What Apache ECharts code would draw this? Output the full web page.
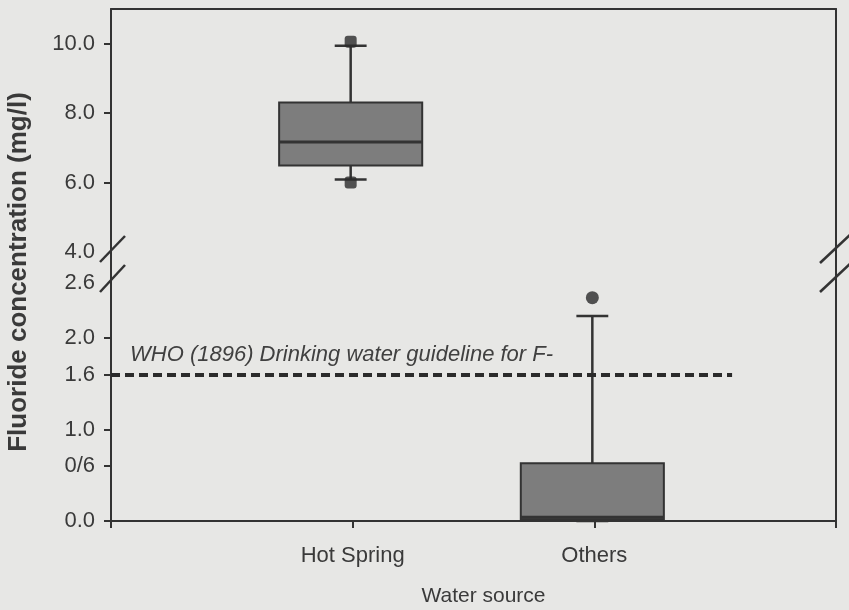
<!DOCTYPE html>
<html><head><meta charset="utf-8">
<script src="https://cdn.jsdelivr.net/npm/echarts@6/dist/echarts.min.js"></script>
<style>html,body{margin:0;padding:0;background:#e7e7e5;}#c{width:849px;height:610px;}</style>
</head><body><div id="c"></div>
<script>
// ---- data ----
const categories = ['Hot Spring', 'Others'];
const categoryPos = [1, 2];
// [min, Q1, median, Q3, max]  (mg/l)
const hotSpringBox = [6.09, 6.49, 7.17, 8.31, 9.94];
const othersBox = [0.0, 0.02, 0.04, 0.63, 2.24];
const hotSpringOutliers = [10.06, 6.0];
const othersOutliers = [2.44];
const upperTickValues = [4, 6, 8, 10];
const lowerTickValues = [0, 0.6, 1.0, 1.6, 2.0, 2.6];
const lowerTickLabels = ['0.0', '0/6', '1.0', '1.6', '2.0', '2.6'];
const guidelineValue = 1.6;
const guidelineEnd = 2.57;
const guidelineText = 'WHO (1896) Drinking water guideline for F-';
const xTitle = 'Water source';
const yTitle = 'Fluoride concentration (mg/l)';

// ---- chart ----
const FONT = '"Liberation Sans", Arial, Helvetica, sans-serif';
const TXT = '#3a3a3a';
const LINE = '#333333';
const chart = echarts.init(document.getElementById('c'), null, {renderer: 'canvas'});

function renderBox(params, api) {
  const x = api.value(0);
  const mn = api.value(1), q1 = api.value(2), md = api.value(3), q3 = api.value(4), mx = api.value(5);
  const band = api.size([1, 0])[0];
  const half = band * 0.296;
  const cap = band * 0.066;
  const pMin = api.coord([x, mn]), pQ1 = api.coord([x, q1]), pMd = api.coord([x, md]);
  const pQ3 = api.coord([x, q3]), pMx = api.coord([x, mx]);
  const cx = pMin[0] - 2;
  const ls = {stroke: LINE, lineWidth: 2.5};
  return {type: 'group', children: [
    {type: 'line', shape: {x1: cx, y1: pQ3[1], x2: cx, y2: pMx[1]}, style: ls},
    {type: 'line', shape: {x1: cx, y1: pMin[1], x2: cx, y2: pQ1[1]}, style: ls},
    {type: 'line', shape: {x1: cx - cap, y1: pMx[1], x2: cx + cap, y2: pMx[1]}, style: ls},
    {type: 'line', shape: {x1: cx - cap, y1: pMin[1], x2: cx + cap, y2: pMin[1]}, style: ls},
    {type: 'rect', shape: {x: cx - half, y: pQ3[1], width: 2 * half, height: pQ1[1] - pQ3[1]},
      style: {fill: '#7d7d7d', stroke: LINE, lineWidth: 2}},
    {type: 'line', shape: {x1: cx - half, y1: pMd[1], x2: cx + half, y2: pMd[1]}, style: {stroke: LINE, lineWidth: 3}}
  ]};
}

const lineAxis = {show: true, lineStyle: {color: LINE, width: 2}};
const noLabel = {show: false};
const noTick = {show: false};

const option = {
  backgroundColor: '#e7e7e5',
  animation: false,
  textStyle: {fontFamily: FONT},
  grid: [
    {left: 111, right: 13, top: 9, height: 243},
    {left: 111, right: 13, top: 283, height: 238}
  ],
  xAxis: [
    {type: 'value', gridIndex: 0, min: 0, max: 3, position: 'top', axisLine: lineAxis,
      axisTick: noTick, axisLabel: noLabel, splitLine: {show: false}},
    {type: 'value', gridIndex: 1, min: 0, max: 3, interval: 1, position: 'bottom', axisLine: lineAxis,
      axisTick: {show: true, length: 7, lineStyle: {color: LINE, width: 2}},
      axisLabel: {show: true, margin: 24, fontSize: 22, color: TXT, fontFamily: FONT,
        showMinLabel: true, showMaxLabel: true,
        formatter: v => { const i = categoryPos.indexOf(Math.round(v)); return i >= 0 && Math.abs(v - categoryPos[i]) < 1e-6 ? categories[i] : ''; }},
      splitLine: {show: false},
      name: xTitle, nameLocation: 'middle', nameGap: 65,
      nameTextStyle: {fontSize: 21, color: TXT, fontFamily: FONT, padding: [0, 0, 0, 20]}}
  ],
  yAxis: [
    {type: 'value', gridIndex: 0, min: 4, max: 11, position: 'left', axisLine: lineAxis,
      axisTick: {show: true, length: 7, customValues: upperTickValues.slice(1), lineStyle: {color: LINE, width: 2}},
      axisLabel: {show: true, customValues: upperTickValues, margin: 16, fontSize: 22, color: TXT, fontFamily: FONT,
        formatter: v => Number(v).toFixed(1)},
      splitLine: {show: false}},
    {type: 'value', gridIndex: 0, min: 4, max: 11, position: 'right', axisLine: lineAxis,
      axisTick: noTick, axisLabel: noLabel, splitLine: {show: false}},
    {type: 'value', gridIndex: 1, min: 0, max: 2.6, position: 'left', axisLine: lineAxis,
      axisTick: {show: true, length: 7, customValues: lowerTickValues.slice(0, -1), lineStyle: {color: LINE, width: 2}},
      axisLabel: {show: true, customValues: lowerTickValues, margin: 16, fontSize: 22, color: TXT, fontFamily: FONT,
        formatter: v => { const i = lowerTickValues.findIndex(t => Math.abs(t - v) < 1e-9); return i >= 0 ? lowerTickLabels[i] : ''; }},
      splitLine: {show: false}},
    {type: 'value', gridIndex: 1, min: 0, max: 2.6, position: 'right', axisLine: lineAxis,
      axisTick: noTick, axisLabel: noLabel, splitLine: {show: false}}
  ],
  series: [
    {type: 'custom', name: categories[0], xAxisIndex: 0, yAxisIndex: 0, renderItem: renderBox,
      encode: {x: 0, y: [1, 2, 3, 4, 5]},
      data: [[categoryPos[0]].concat(hotSpringBox)], z: 3},
    {type: 'custom', name: categories[1], xAxisIndex: 1, yAxisIndex: 2, renderItem: renderBox,
      encode: {x: 0, y: [1, 2, 3, 4, 5]},
      data: [[categoryPos[1]].concat(othersBox)], z: 3},
    {type: 'scatter', xAxisIndex: 0, yAxisIndex: 0, symbol: 'roundRect', symbolSize: 12,
      symbolOffset: [-2, 0],
      itemStyle: {color: '#2a2a2a'}, data: hotSpringOutliers.map(v => [categoryPos[0], v]), z: 4},
    {type: 'scatter', xAxisIndex: 1, yAxisIndex: 2, symbol: 'circle', symbolSize: 13,
      symbolOffset: [-2, 0],
      itemStyle: {color: '#2a2a2a'}, data: othersOutliers.map(v => [categoryPos[1], v]), z: 4,
      markLine: {
        silent: true, symbol: 'none', animation: false,
        lineStyle: {color: '#2b2b2b', width: 4, type: [9, 5]},
        label: {show: true, position: 'insideStartTop', formatter: guidelineText, distance: [19, 9],
          fontStyle: 'italic', fontSize: 22, color: '#404040', fontFamily: FONT},
        data: [[{coord: [0, guidelineValue]}, {coord: [guidelineEnd, guidelineValue]}]]
      }}
  ],
  graphic: [
    {type: 'line', shape: {x1: 111, y1: 251, x2: 111, y2: 284}, style: {stroke: LINE, lineWidth: 2}},
    {type: 'line', shape: {x1: 836, y1: 251, x2: 836, y2: 284}, style: {stroke: LINE, lineWidth: 2}},
    {type: 'line', shape: {x1: 100, y1: 262, x2: 125, y2: 236}, style: {stroke: LINE, lineWidth: 2.5}},
    {type: 'line', shape: {x1: 100, y1: 292, x2: 125, y2: 265}, style: {stroke: LINE, lineWidth: 2.5}},
    {type: 'line', shape: {x1: 820, y1: 263, x2: 852, y2: 233}, style: {stroke: LINE, lineWidth: 2.5}},
    {type: 'line', shape: {x1: 820, y1: 292, x2: 852, y2: 262}, style: {stroke: LINE, lineWidth: 2.5}},
    {type: 'text', x: 19, y: 272, rotation: Math.PI / 2,
      style: {text: yTitle, fontSize: 26, fontWeight: 'bold', fontFamily: FONT, fill: TXT,
        align: 'center', verticalAlign: 'middle'}}
  ]
};
chart.setOption(option);
</script>
</body></html>
